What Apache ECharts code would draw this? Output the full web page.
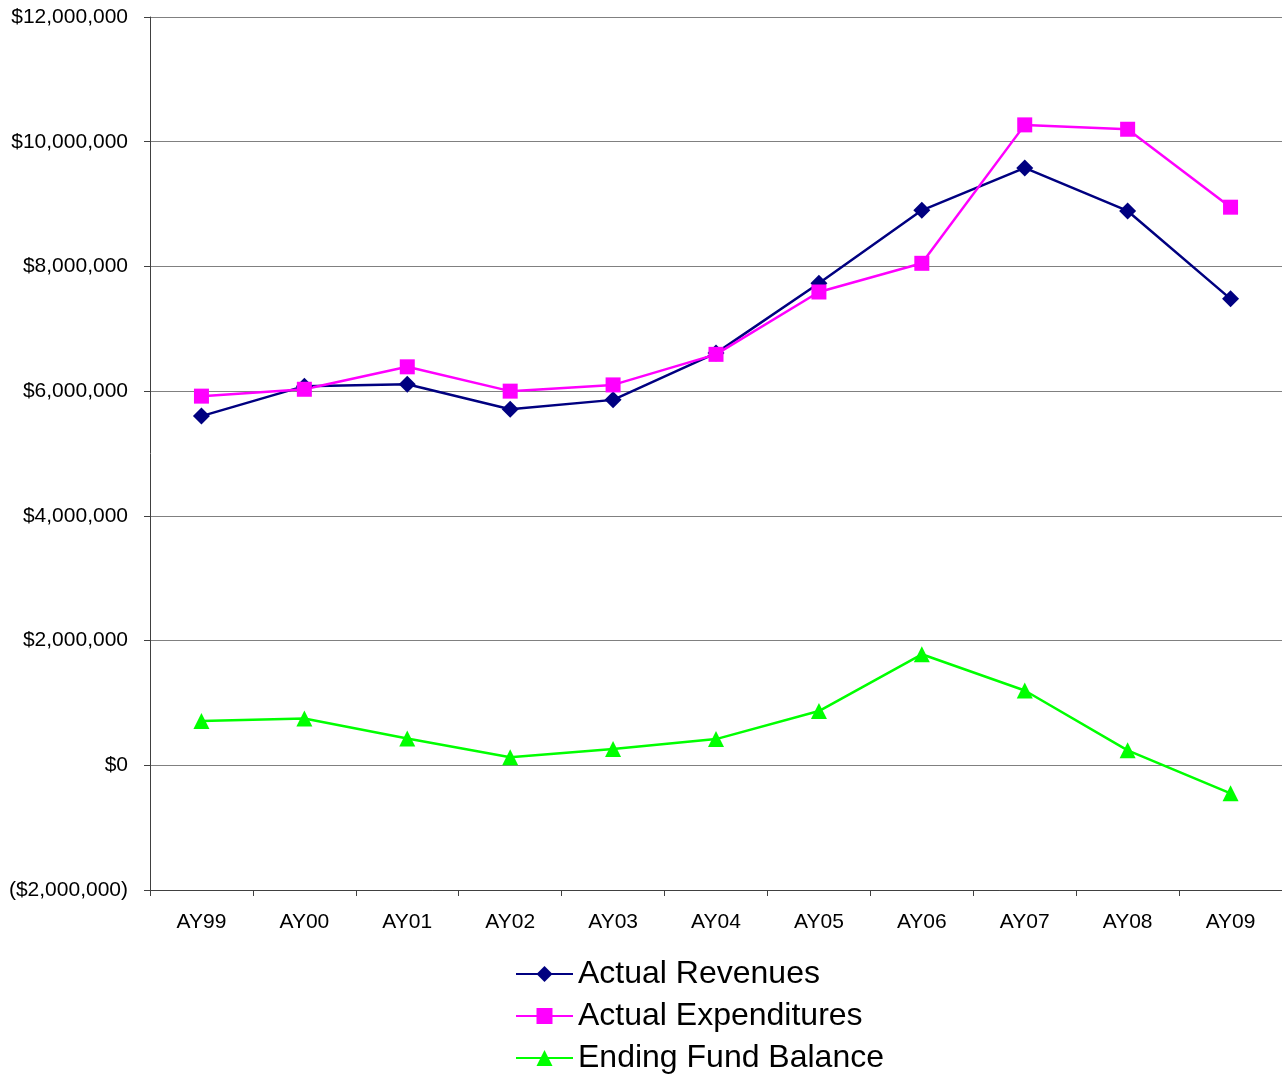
<!DOCTYPE html>
<html>
<head>
<meta charset="utf-8">
<script src="https://cdn.jsdelivr.net/npm/echarts@6/dist/echarts.min.js"></script>
<style>
  html, body { margin: 0; padding: 0; background: #fff; }
  #main { width: 1282px; height: 1078px; }
</style>
</head>
<body>
<div id="main"></div>
<script>
// categories and values
const years = ['AY99', 'AY00', 'AY01', 'AY02', 'AY03', 'AY04', 'AY05', 'AY06', 'AY07', 'AY08', 'AY09'];
const revenues = [5600000, 6080000, 6110000, 5710000, 5860000, 6610000, 7730000, 8900000, 9580000, 8890000, 7480000];
const expenditures = [5920000, 6030000, 6390000, 6000000, 6100000, 6590000, 7590000, 8050000, 10270000, 10200000, 8950000];
const fundBalance = [710000, 750000, 430000, 130000, 260000, 420000, 870000, 1780000, 1200000, 240000, -450000];

const font = 'Liberation Sans, Arial, sans-serif';

// $ formatting, negatives in parentheses
function money(v) {
  const s = '$' + Math.abs(v).toLocaleString('en-US');
  return v < 0 ? '(' + s + ')' : s;
}

const chart = echarts.init(document.getElementById('main'));

chart.setOption({
  animation: false,
  backgroundColor: '#fff',
  grid: { left: 150, right: 0, top: 17, bottom: 188 },
  legend: {
    orient: 'vertical',
    left: 510,
    top: 953,
    height: 124,
    itemGap: 10,
    itemWidth: 57,
    itemHeight: 20,
    textStyle: { fontFamily: font, fontSize: 32, color: '#000' },
    data: ['Actual Revenues', 'Actual Expenditures', 'Ending Fund Balance']
  },
  xAxis: {
    type: 'category',
    data: years,
    boundaryGap: true,
    axisLine: { onZero: false, lineStyle: { color: '#404040', width: 1 } },
    axisTick: { show: true, length: 6, lineStyle: { color: '#404040' } },
    axisLabel: { fontFamily: font, fontSize: 21, color: '#000', margin: 22 }
  },
  yAxis: {
    type: 'value',
    min: -2000000,
    max: 12000000,
    interval: 2000000,
    axisLine: { show: true, lineStyle: { color: '#404040', width: 1 } },
    axisTick: { show: true, length: 6, lineStyle: { color: '#404040' } },
    splitLine: { lineStyle: { color: '#808080', width: 1 } },
    axisLabel: { fontFamily: font, fontSize: 21, color: '#000', margin: 22, formatter: money }
  },
  series: [
    {
      name: 'Actual Revenues',
      type: 'line',
      data: revenues,
      symbol: 'diamond',
      symbolSize: 17,
      lineStyle: { color: '#000080', width: 2.5 },
      itemStyle: { color: '#000080' }
    },
    {
      name: 'Actual Expenditures',
      type: 'line',
      data: expenditures,
      symbol: 'rect',
      symbolSize: 15,
      lineStyle: { color: '#ff00ff', width: 2.5 },
      itemStyle: { color: '#ff00ff' }
    },
    {
      name: 'Ending Fund Balance',
      type: 'line',
      data: fundBalance,
      symbol: 'triangle',
      symbolSize: 16,
      lineStyle: { color: '#00ff00', width: 2.5 },
      itemStyle: { color: '#00ff00' }
    }
  ]
});
</script>
</body>
</html>
